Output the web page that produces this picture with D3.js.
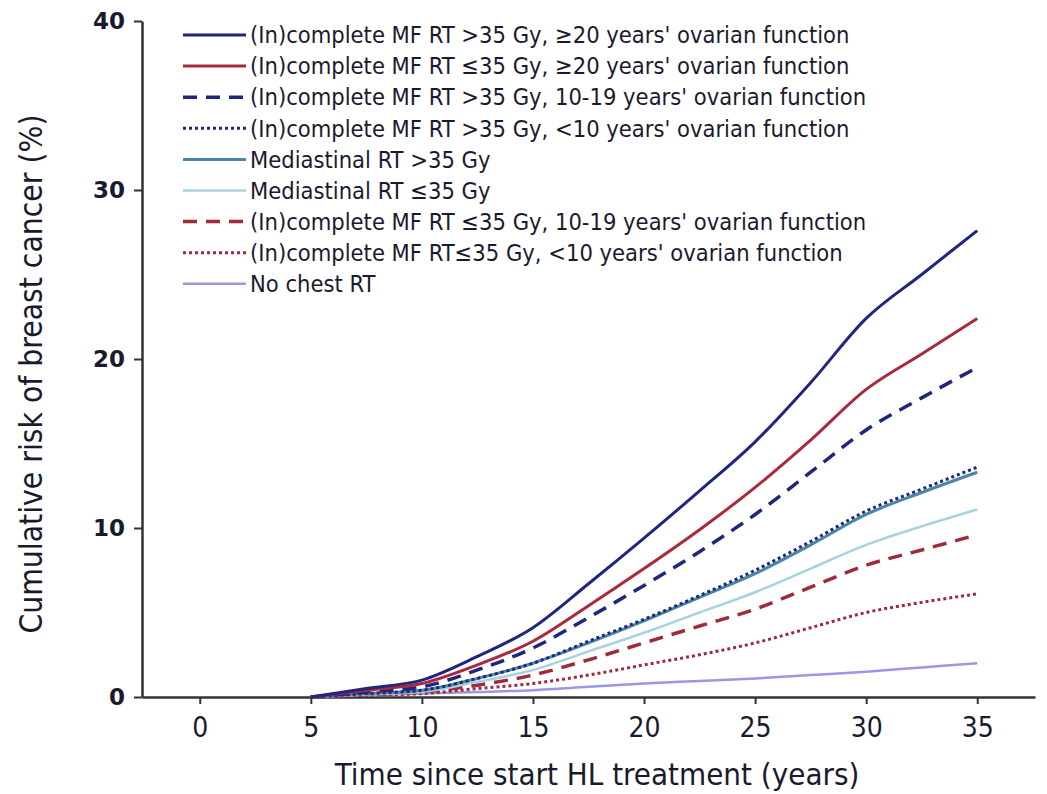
<!DOCTYPE html>
<html>
<head>
<meta charset="utf-8">
<script src="https://cdn.jsdelivr.net/npm/d3@7"></script>
<style>
  body { margin: 0; background: #fff; }
  text { font-family: "DejaVu Sans Condensed", "Liberation Sans Narrow", sans-serif; fill: #1a1a2e; }
</style>
</head>
<body>
<script>
const years = [5, 7.5, 10, 12.5, 15, 17.5, 20, 22.5, 25, 27.5, 30, 32.5, 35];

const mfHighLong   = [0, 0.5, 1.0, 2.4, 4.1, 6.7, 9.4, 12.2, 15.1, 18.6, 22.4, 25.0, 27.6];
const mfLowLong    = [0, 0.4, 0.8, 1.9, 3.3, 5.4, 7.6, 9.9, 12.4, 15.2, 18.2, 20.3, 22.4];
const mfHighMid    = [0, 0.3, 0.6, 1.6, 2.9, 4.7, 6.6, 8.6, 10.8, 13.3, 15.8, 17.7, 19.5];
const mfHighShort  = [0, 0.2, 0.4, 1.1, 2.0, 3.3, 4.6, 6.0, 7.5, 9.2, 11.0, 12.3, 13.6];
const medHigh      = [0, 0.2, 0.4, 1.1, 2.0, 3.2, 4.5, 5.9, 7.3, 9.0, 10.8, 12.1, 13.3];
const medLow       = [0, 0.15, 0.3, 0.9, 1.6, 2.7, 3.8, 5.0, 6.2, 7.6, 9.0, 10.1, 11.1];
const mfLowMid     = [0, 0.15, 0.3, 0.7, 1.3, 2.2, 3.2, 4.2, 5.2, 6.5, 7.8, 8.7, 9.6];
const mfLowShort   = [0, 0.1, 0.2, 0.5, 0.8, 1.3, 1.9, 2.5, 3.2, 4.1, 5.0, 5.6, 6.1];
const noChest      = [0, 0.1, 0.2, 0.3, 0.4, 0.6, 0.8, 0.95, 1.1, 1.3, 1.5, 1.75, 2.0];

const seriesNames = [
  "(In)complete MF RT >35 Gy, \u226520 years' ovarian function",
  "(In)complete MF RT \u226435 Gy, \u226520 years' ovarian function",
  "(In)complete MF RT >35 Gy, 10-19 years' ovarian function",
  "(In)complete MF RT >35 Gy, <10 years' ovarian function",
  "Mediastinal RT >35 Gy",
  "Mediastinal RT \u226435 Gy",
  "(In)complete MF RT \u226435 Gy, 10-19 years' ovarian function",
  "(In)complete MF RT\u226435 Gy, <10 years' ovarian function",
  "No chest RT"
];
const seriesValues = [mfHighLong, mfLowLong, mfHighMid, mfHighShort, medHigh, medLow, mfLowMid, mfLowShort, noChest];
const seriesColors = ["#1f2680", "#aa2a3c", "#1f2680", "#1f2680", "#4a87a3", "#a8d2e0", "#a02a38", "#a02a38", "#9a98e6"];
const seriesDash = ["", "", "14,9", "3,3", "", "", "14,9", "3,3", ""];
const seriesWidth = [3, 3, 3.5, 3, 3, 2.5, 3.5, 3, 2.5];

const xTicks = [0, 5, 10, 15, 20, 25, 30, 35];
const yTicks = [0, 10, 20, 30, 40];

const width = 1047, height = 794;

const svg = d3.select("body").append("svg")
  .attr("width", width).attr("height", height);

const x = d3.scaleLinear().domain([-2.6, 37.6]).range([142, 1035]);
const y = d3.scaleLinear().domain([0, 40]).range([697, 21]);

// axes
const xAxis = svg.append("g")
  .attr("transform", `translate(0,${y(0)})`)
  .call(d3.axisBottom(x).tickValues(xTicks).tickSize(7).tickSizeOuter(0).tickPadding(13));
xAxis.select(".domain").attr("stroke", "#333").attr("stroke-width", 2.5);
xAxis.selectAll(".tick line").attr("stroke", "#333").attr("stroke-width", 2);
xAxis.selectAll(".tick text").style("font-size", "28px").attr("fill", "#111");

const yAxis = svg.append("g")
  .attr("transform", `translate(${x.range()[0]},0)`)
  .call(d3.axisLeft(y).tickValues(yTicks).tickSize(8).tickSizeOuter(0).tickPadding(9));
yAxis.select(".domain").attr("stroke", "#333").attr("stroke-width", 2.5);
yAxis.selectAll(".tick line").attr("stroke", "#333").attr("stroke-width", 2);
yAxis.selectAll(".tick text")
  .style("font-family", "'DejaVu Sans', Verdana, sans-serif")
  .style("font-weight", "bold")
  .style("font-size", "23px")
  .attr("fill", "#1b1b3a");

// axis titles
svg.append("text")
  .attr("x", 597).attr("y", 785)
  .attr("text-anchor", "middle")
  .style("font-size", "31px")
  .text("Time since start HL treatment (years)");

svg.append("text")
  .attr("transform", "translate(42,374) rotate(-90)")
  .attr("text-anchor", "middle")
  .style("font-size", "31.5px")
  .text("Cumulative risk of breast cancer (%)");

// lines
const line = d3.line()
  .x((d, i) => x(years[i]))
  .y(d => y(d))
  .curve(d3.curveMonotoneX);

const order = [8, 7, 6, 5, 4, 3, 2, 1, 0];
svg.append("g").selectAll("path")
  .data(order)
  .enter()
  .append("path")
  .attr("d", i => line(seriesValues[i]))
  .attr("fill", "none")
  .attr("stroke", i => seriesColors[i])
  .attr("stroke-width", i => seriesWidth[i])
  .attr("stroke-dasharray", i => seriesDash[i] || null);

// legend
const legend = svg.append("g").attr("transform", "translate(183,35)");
const rows = legend.selectAll("g")
  .data(seriesNames)
  .enter()
  .append("g")
  .attr("transform", (d, i) => `translate(0,${i * 31.1})`);

rows.append("line")
  .attr("x1", 0).attr("x2", 63)
  .attr("stroke", (d, i) => seriesColors[i])
  .attr("stroke-width", (d, i) => seriesWidth[i])
  .attr("stroke-dasharray", (d, i) => seriesDash[i] || null);

rows.append("text")
  .attr("x", 67).attr("dy", "0.35em")
  .style("font-size", "23.5px")
  .text(d => d);
</script>
</body>
</html>
